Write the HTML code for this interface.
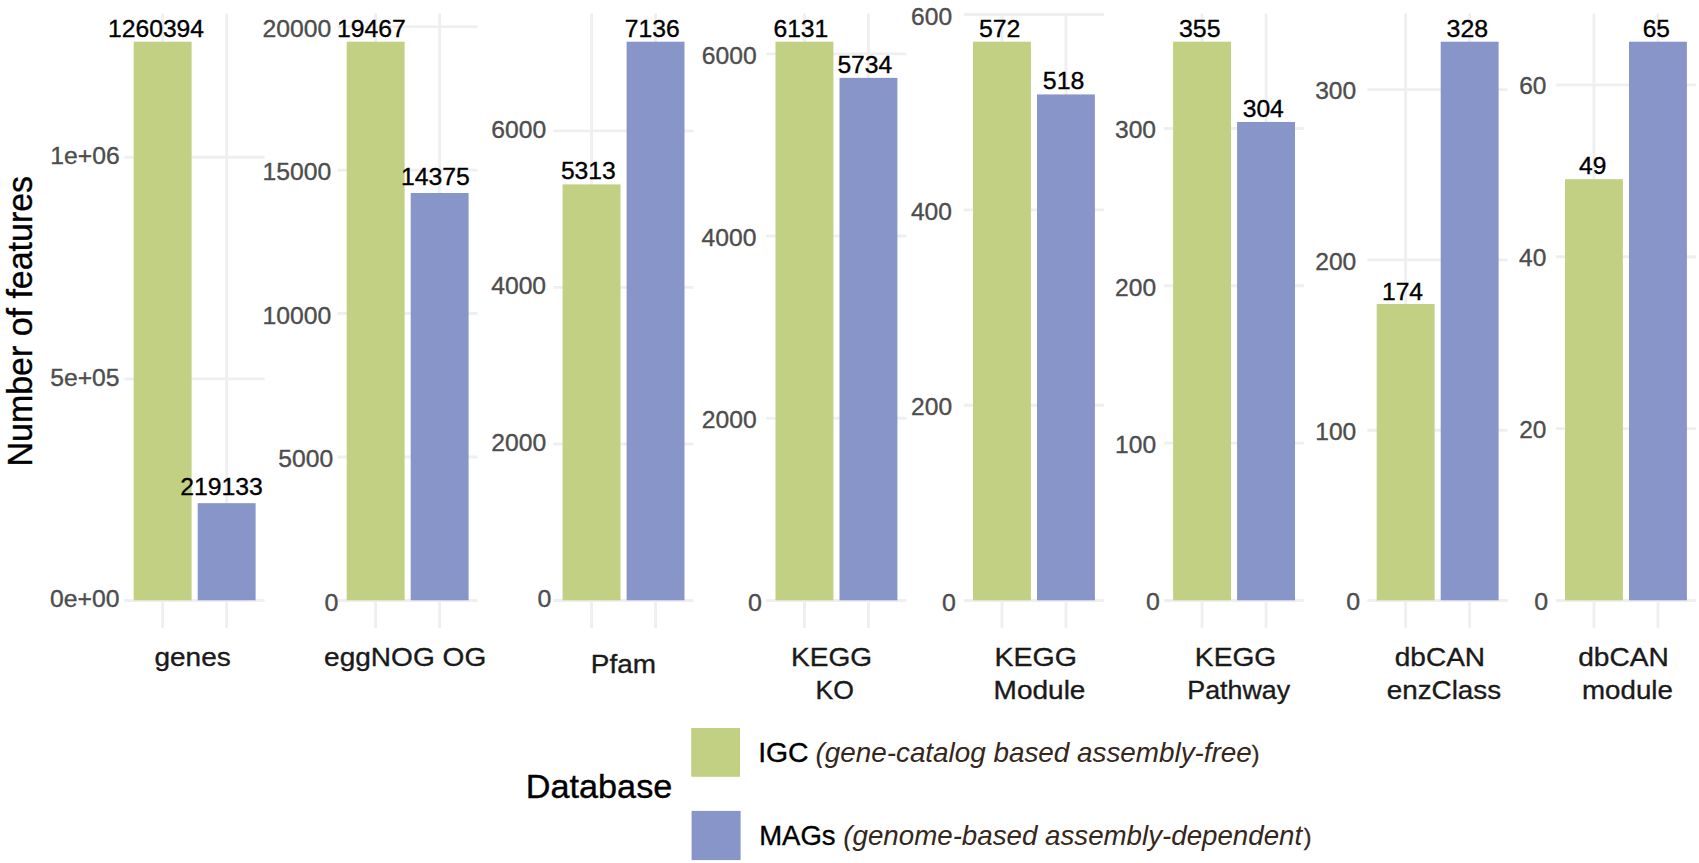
<!DOCTYPE html>
<html><head><meta charset="utf-8"><title>Number of features per database</title>
<style>html,body{margin:0;padding:0;background:#fff;overflow:hidden}svg{display:block}
text{font-family:"Liberation Sans",sans-serif;white-space:pre;stroke-width:0.35px}</style></head>
<body><svg width="1699" height="863" viewBox="0 0 1699 863">
<rect width="1699" height="863" fill="#fff"/>
<g id="grid" stroke="#efeff1" stroke-width="2.9" fill="none">
<line x1="124.4" x2="264.6" y1="600.50" y2="600.50"/>
<line x1="124.4" x2="264.6" y1="378.90" y2="378.90"/>
<line x1="124.4" x2="264.6" y1="157.31" y2="157.31"/>
<line x1="162.65" x2="162.65" y1="13.6" y2="628.0"/>
<line x1="226.65" x2="226.65" y1="13.6" y2="628.0"/>
<line x1="337.4" x2="477.6" y1="600.50" y2="600.50"/>
<line x1="337.4" x2="477.6" y1="457.03" y2="457.03"/>
<line x1="337.4" x2="477.6" y1="313.55" y2="313.55"/>
<line x1="337.4" x2="477.6" y1="170.08" y2="170.08"/>
<line x1="337.4" x2="477.6" y1="26.61" y2="26.61"/>
<line x1="375.65" x2="375.65" y1="13.6" y2="628.0"/>
<line x1="439.65" x2="439.65" y1="13.6" y2="628.0"/>
<line x1="553.3" x2="693.5" y1="600.50" y2="600.50"/>
<line x1="553.3" x2="693.5" y1="443.94" y2="443.94"/>
<line x1="553.3" x2="693.5" y1="287.38" y2="287.38"/>
<line x1="553.3" x2="693.5" y1="130.83" y2="130.83"/>
<line x1="591.55" x2="591.55" y1="13.6" y2="628.0"/>
<line x1="655.55" x2="655.55" y1="13.6" y2="628.0"/>
<line x1="766.2" x2="906.4" y1="600.50" y2="600.50"/>
<line x1="766.2" x2="906.4" y1="418.28" y2="418.28"/>
<line x1="766.2" x2="906.4" y1="236.06" y2="236.06"/>
<line x1="766.2" x2="906.4" y1="53.84" y2="53.84"/>
<line x1="804.45" x2="804.45" y1="13.6" y2="628.0"/>
<line x1="868.45" x2="868.45" y1="13.6" y2="628.0"/>
<line x1="963.7" x2="1103.9" y1="600.50" y2="600.50"/>
<line x1="963.7" x2="1103.9" y1="405.19" y2="405.19"/>
<line x1="963.7" x2="1103.9" y1="209.87" y2="209.87"/>
<line x1="963.7" x2="1103.9" y1="14.56" y2="14.56"/>
<line x1="1001.95" x2="1001.95" y1="13.6" y2="628.0"/>
<line x1="1065.95" x2="1065.95" y1="13.6" y2="628.0"/>
<line x1="1163.8" x2="1304.0" y1="600.50" y2="600.50"/>
<line x1="1163.8" x2="1304.0" y1="443.15" y2="443.15"/>
<line x1="1163.8" x2="1304.0" y1="285.80" y2="285.80"/>
<line x1="1163.8" x2="1304.0" y1="128.44" y2="128.44"/>
<line x1="1202.05" x2="1202.05" y1="13.6" y2="628.0"/>
<line x1="1266.05" x2="1266.05" y1="13.6" y2="628.0"/>
<line x1="1367.4" x2="1507.6" y1="600.50" y2="600.50"/>
<line x1="1367.4" x2="1507.6" y1="430.20" y2="430.20"/>
<line x1="1367.4" x2="1507.6" y1="259.89" y2="259.89"/>
<line x1="1367.4" x2="1507.6" y1="89.59" y2="89.59"/>
<line x1="1405.65" x2="1405.65" y1="13.6" y2="628.0"/>
<line x1="1469.65" x2="1469.65" y1="13.6" y2="628.0"/>
<line x1="1555.7" x2="1695.9" y1="600.50" y2="600.50"/>
<line x1="1555.7" x2="1695.9" y1="428.62" y2="428.62"/>
<line x1="1555.7" x2="1695.9" y1="256.75" y2="256.75"/>
<line x1="1555.7" x2="1695.9" y1="84.87" y2="84.87"/>
<line x1="1593.95" x2="1593.95" y1="13.6" y2="628.0"/>
<line x1="1657.95" x2="1657.95" y1="13.6" y2="628.0"/>
</g>
<g id="bars">
<rect x="133.70" y="41.70" width="57.9" height="558.60" fill="#c1d082"/>
<rect x="197.70" y="503.18" width="57.9" height="97.12" fill="#8895c9"/>
<rect x="346.70" y="41.70" width="57.9" height="558.60" fill="#c1d082"/>
<rect x="410.70" y="193.00" width="57.9" height="407.30" fill="#8895c9"/>
<rect x="562.60" y="184.40" width="57.9" height="415.90" fill="#c1d082"/>
<rect x="626.60" y="41.70" width="57.9" height="558.60" fill="#8895c9"/>
<rect x="775.50" y="41.70" width="57.9" height="558.60" fill="#c1d082"/>
<rect x="839.50" y="77.87" width="57.9" height="522.43" fill="#8895c9"/>
<rect x="973.00" y="41.70" width="57.9" height="558.60" fill="#c1d082"/>
<rect x="1037.00" y="94.43" width="57.9" height="505.87" fill="#8895c9"/>
<rect x="1173.10" y="41.70" width="57.9" height="558.60" fill="#c1d082"/>
<rect x="1237.10" y="121.95" width="57.9" height="478.35" fill="#8895c9"/>
<rect x="1376.70" y="303.97" width="57.9" height="296.33" fill="#c1d082"/>
<rect x="1440.70" y="41.70" width="57.9" height="558.60" fill="#8895c9"/>
<rect x="1565.00" y="179.20" width="57.9" height="421.10" fill="#c1d082"/>
<rect x="1629.00" y="41.70" width="57.9" height="558.60" fill="#8895c9"/>
<rect x="691.2" y="728" width="48.8" height="48.8" fill="#c1d082"/><rect x="691.6" y="810.9" width="49" height="49.2" fill="#8895c9"/>
</g>
<g id="texts">
<text id="t0" x="50.05" y="607.40" font-size="24.4" fill="#4d4d4d" stroke="#4d4d4d" textLength="69.42" lengthAdjust="spacingAndGlyphs">0e+00</text>
<text id="t1" x="50.20" y="385.80" font-size="24.4" fill="#4d4d4d" stroke="#4d4d4d" textLength="69.41" lengthAdjust="spacingAndGlyphs">5e+05</text>
<text id="t2" x="50.33" y="164.21" font-size="24.4" fill="#4d4d4d" stroke="#4d4d4d" textLength="69.39" lengthAdjust="spacingAndGlyphs">1e+06</text>
<text id="t3" x="108.09" y="36.50" font-size="24.4" fill="#000000" stroke="#000000" textLength="95.97" lengthAdjust="spacingAndGlyphs">1260394</text>
<text id="t4" x="180.21" y="495.40" font-size="24.4" fill="#000000" stroke="#000000" textLength="82.67" lengthAdjust="spacingAndGlyphs">219133</text>
<text id="t5" x="324.61" y="610.60" font-size="24.4" fill="#4d4d4d" stroke="#4d4d4d" textLength="13.88" lengthAdjust="spacingAndGlyphs">0</text>
<text id="t6" x="278.30" y="467.13" font-size="24.4" fill="#4d4d4d" stroke="#4d4d4d" textLength="54.86" lengthAdjust="spacingAndGlyphs">5000</text>
<text id="t7" x="262.55" y="323.65" font-size="24.4" fill="#4d4d4d" stroke="#4d4d4d" textLength="68.82" lengthAdjust="spacingAndGlyphs">10000</text>
<text id="t8" x="262.55" y="180.18" font-size="24.4" fill="#4d4d4d" stroke="#4d4d4d" textLength="68.82" lengthAdjust="spacingAndGlyphs">15000</text>
<text id="t9" x="262.51" y="36.71" font-size="24.4" fill="#4d4d4d" stroke="#4d4d4d" textLength="68.82" lengthAdjust="spacingAndGlyphs">20000</text>
<text id="t10" x="336.90" y="36.50" font-size="24.4" fill="#000000" stroke="#000000" textLength="68.82" lengthAdjust="spacingAndGlyphs">19467</text>
<text id="t11" x="400.95" y="185.30" font-size="24.4" fill="#000000" stroke="#000000" textLength="68.83" lengthAdjust="spacingAndGlyphs">14375</text>
<text id="t12" x="537.61" y="607.40" font-size="24.4" fill="#4d4d4d" stroke="#4d4d4d" textLength="13.88" lengthAdjust="spacingAndGlyphs">0</text>
<text id="t13" x="491.36" y="450.84" font-size="24.4" fill="#4d4d4d" stroke="#4d4d4d" textLength="54.86" lengthAdjust="spacingAndGlyphs">2000</text>
<text id="t14" x="491.23" y="294.28" font-size="24.4" fill="#4d4d4d" stroke="#4d4d4d" textLength="54.88" lengthAdjust="spacingAndGlyphs">4000</text>
<text id="t15" x="491.36" y="137.73" font-size="24.4" fill="#4d4d4d" stroke="#4d4d4d" textLength="54.86" lengthAdjust="spacingAndGlyphs">6000</text>
<text id="t16" x="560.91" y="179.20" font-size="24.4" fill="#000000" stroke="#000000" textLength="54.84" lengthAdjust="spacingAndGlyphs">5313</text>
<text id="t17" x="624.83" y="36.50" font-size="24.4" fill="#000000" stroke="#000000" textLength="54.86" lengthAdjust="spacingAndGlyphs">7136</text>
<text id="t18" x="748.01" y="610.60" font-size="24.4" fill="#4d4d4d" stroke="#4d4d4d" textLength="13.88" lengthAdjust="spacingAndGlyphs">0</text>
<text id="t19" x="701.76" y="428.38" font-size="24.4" fill="#4d4d4d" stroke="#4d4d4d" textLength="54.86" lengthAdjust="spacingAndGlyphs">2000</text>
<text id="t20" x="701.63" y="246.16" font-size="24.4" fill="#4d4d4d" stroke="#4d4d4d" textLength="54.88" lengthAdjust="spacingAndGlyphs">4000</text>
<text id="t21" x="701.76" y="63.94" font-size="24.4" fill="#4d4d4d" stroke="#4d4d4d" textLength="54.86" lengthAdjust="spacingAndGlyphs">6000</text>
<text id="t22" x="773.41" y="36.50" font-size="24.4" fill="#000000" stroke="#000000" textLength="54.89" lengthAdjust="spacingAndGlyphs">6131</text>
<text id="t23" x="837.42" y="72.67" font-size="24.4" fill="#000000" stroke="#000000" textLength="54.87" lengthAdjust="spacingAndGlyphs">5734</text>
<text id="t24" x="942.01" y="610.60" font-size="24.4" fill="#4d4d4d" stroke="#4d4d4d" textLength="13.88" lengthAdjust="spacingAndGlyphs">0</text>
<text id="t25" x="911.05" y="415.29" font-size="24.4" fill="#4d4d4d" stroke="#4d4d4d" textLength="41.01" lengthAdjust="spacingAndGlyphs">200</text>
<text id="t26" x="910.91" y="219.97" font-size="24.4" fill="#4d4d4d" stroke="#4d4d4d" textLength="41.03" lengthAdjust="spacingAndGlyphs">400</text>
<text id="t27" x="911.05" y="24.66" font-size="24.4" fill="#4d4d4d" stroke="#4d4d4d" textLength="41.01" lengthAdjust="spacingAndGlyphs">600</text>
<text id="t28" x="978.90" y="36.50" font-size="24.4" fill="#000000" stroke="#000000" textLength="41.51" lengthAdjust="spacingAndGlyphs">572</text>
<text id="t29" x="1042.89" y="89.23" font-size="24.4" fill="#000000" stroke="#000000" textLength="41.54" lengthAdjust="spacingAndGlyphs">518</text>
<text id="t30" x="1146.01" y="610.30" font-size="24.4" fill="#4d4d4d" stroke="#4d4d4d" textLength="13.88" lengthAdjust="spacingAndGlyphs">0</text>
<text id="t31" x="1115.09" y="452.95" font-size="24.4" fill="#4d4d4d" stroke="#4d4d4d" textLength="41.01" lengthAdjust="spacingAndGlyphs">100</text>
<text id="t32" x="1115.05" y="295.60" font-size="24.4" fill="#4d4d4d" stroke="#4d4d4d" textLength="41.01" lengthAdjust="spacingAndGlyphs">200</text>
<text id="t33" x="1114.98" y="138.24" font-size="24.4" fill="#4d4d4d" stroke="#4d4d4d" textLength="41.01" lengthAdjust="spacingAndGlyphs">300</text>
<text id="t34" x="1178.99" y="36.50" font-size="24.4" fill="#000000" stroke="#000000" textLength="41.56" lengthAdjust="spacingAndGlyphs">355</text>
<text id="t35" x="1242.68" y="116.75" font-size="24.4" fill="#000000" stroke="#000000" textLength="41.18" lengthAdjust="spacingAndGlyphs">304</text>
<text id="t36" x="1346.21" y="610.30" font-size="24.4" fill="#4d4d4d" stroke="#4d4d4d" textLength="13.88" lengthAdjust="spacingAndGlyphs">0</text>
<text id="t37" x="1315.29" y="440.00" font-size="24.4" fill="#4d4d4d" stroke="#4d4d4d" textLength="41.01" lengthAdjust="spacingAndGlyphs">100</text>
<text id="t38" x="1315.25" y="269.69" font-size="24.4" fill="#4d4d4d" stroke="#4d4d4d" textLength="41.01" lengthAdjust="spacingAndGlyphs">200</text>
<text id="t39" x="1315.18" y="99.39" font-size="24.4" fill="#4d4d4d" stroke="#4d4d4d" textLength="41.01" lengthAdjust="spacingAndGlyphs">300</text>
<text id="t40" x="1381.91" y="299.50" font-size="24.4" fill="#000000" stroke="#000000" textLength="41.19" lengthAdjust="spacingAndGlyphs">174</text>
<text id="t41" x="1446.61" y="36.50" font-size="24.4" fill="#000000" stroke="#000000" textLength="41.54" lengthAdjust="spacingAndGlyphs">328</text>
<text id="t42" x="1534.31" y="609.90" font-size="24.4" fill="#4d4d4d" stroke="#4d4d4d" textLength="13.88" lengthAdjust="spacingAndGlyphs">0</text>
<text id="t43" x="1519.22" y="438.02" font-size="24.4" fill="#4d4d4d" stroke="#4d4d4d" textLength="27.23" lengthAdjust="spacingAndGlyphs">20</text>
<text id="t44" x="1519.07" y="266.15" font-size="24.4" fill="#4d4d4d" stroke="#4d4d4d" textLength="27.26" lengthAdjust="spacingAndGlyphs">40</text>
<text id="t45" x="1519.22" y="94.27" font-size="24.4" fill="#4d4d4d" stroke="#4d4d4d" textLength="27.23" lengthAdjust="spacingAndGlyphs">60</text>
<text id="t46" x="1579.00" y="174.00" font-size="24.4" fill="#000000" stroke="#000000" textLength="27.28" lengthAdjust="spacingAndGlyphs">49</text>
<text id="t47" x="1642.64" y="36.50" font-size="24.4" fill="#000000" stroke="#000000" textLength="27.16" lengthAdjust="spacingAndGlyphs">65</text>
<text id="t48" x="154.45" y="665.50" font-size="26.6" fill="#1a1a1a" stroke="#1a1a1a" textLength="76.30" lengthAdjust="spacingAndGlyphs">genes</text>
<text id="t49" x="324.05" y="665.50" font-size="26.6" fill="#1a1a1a" stroke="#1a1a1a" textLength="162.17" lengthAdjust="spacingAndGlyphs">eggNOG OG</text>
<text id="t50" x="590.77" y="673.00" font-size="26.6" fill="#1a1a1a" stroke="#1a1a1a" textLength="65.15" lengthAdjust="spacingAndGlyphs">Pfam</text>
<text id="t51" x="790.96" y="666.30" font-size="26.6" fill="#1a1a1a" stroke="#1a1a1a" textLength="81.09" lengthAdjust="spacingAndGlyphs">KEGG</text>
<text id="t52" x="815.57" y="698.80" font-size="26.6" fill="#1a1a1a" stroke="#1a1a1a" textLength="38.43" lengthAdjust="spacingAndGlyphs">KO</text>
<text id="t53" x="994.52" y="666.30" font-size="26.6" fill="#1a1a1a" stroke="#1a1a1a" textLength="82.46" lengthAdjust="spacingAndGlyphs">KEGG</text>
<text id="t54" x="993.56" y="698.80" font-size="26.6" fill="#1a1a1a" stroke="#1a1a1a" textLength="91.91" lengthAdjust="spacingAndGlyphs">Module</text>
<text id="t55" x="1194.85" y="666.30" font-size="26.6" fill="#1a1a1a" stroke="#1a1a1a" textLength="81.41" lengthAdjust="spacingAndGlyphs">KEGG</text>
<text id="t56" x="1187.25" y="698.80" font-size="26.6" fill="#1a1a1a" stroke="#1a1a1a" textLength="102.91" lengthAdjust="spacingAndGlyphs">Pathway</text>
<text id="t57" x="1394.75" y="666.30" font-size="26.6" fill="#1a1a1a" stroke="#1a1a1a" textLength="90.30" lengthAdjust="spacingAndGlyphs">dbCAN</text>
<text id="t58" x="1386.76" y="698.80" font-size="26.6" fill="#1a1a1a" stroke="#1a1a1a" textLength="114.35" lengthAdjust="spacingAndGlyphs">enzClass</text>
<text id="t59" x="1578.15" y="666.30" font-size="26.6" fill="#1a1a1a" stroke="#1a1a1a" textLength="90.71" lengthAdjust="spacingAndGlyphs">dbCAN</text>
<text id="t60" x="1582.07" y="698.80" font-size="26.6" fill="#1a1a1a" stroke="#1a1a1a" textLength="90.79" lengthAdjust="spacingAndGlyphs">module</text>
<text id="t61" x="525.75" y="798.30" font-size="33.5" fill="#000" stroke="#000" textLength="146.58" lengthAdjust="spacingAndGlyphs">Database</text>
<text id="t62" x="758.17" y="762.00" font-size="27.4" fill="#000" stroke="#000" textLength="50.44" lengthAdjust="spacingAndGlyphs">IGC</text>
<text id="t63" x="815.51" y="762.00" font-size="27.4" fill="#35271b" stroke="none" textLength="436.32" lengthAdjust="spacingAndGlyphs" font-style="italic">(gene-catalog based assembly-free</text>
<text id="t64" x="1251.73" y="762.00" font-size="23.6" fill="#35271b" stroke="#35271b" textLength="7.69" lengthAdjust="spacingAndGlyphs">)</text>
<text id="t65" x="759.23" y="845.20" font-size="27.4" fill="#000" stroke="#000" textLength="76.33" lengthAdjust="spacingAndGlyphs">MAGs</text>
<text id="t66" x="843.32" y="845.20" font-size="27.4" fill="#35271b" stroke="none" textLength="458.89" lengthAdjust="spacingAndGlyphs" font-style="italic">(genome-based assembly-dependent</text>
<text id="t67" x="1303.83" y="845.20" font-size="23.6" fill="#35271b" stroke="#35271b" textLength="7.69" lengthAdjust="spacingAndGlyphs">)</text>
<text id="t68" x="-466.51" y="32.30" font-size="34.4" fill="#000" stroke="#000" textLength="290.55" lengthAdjust="spacingAndGlyphs" transform="rotate(-90)">Number of features</text>
</g>
</svg></body></html>
